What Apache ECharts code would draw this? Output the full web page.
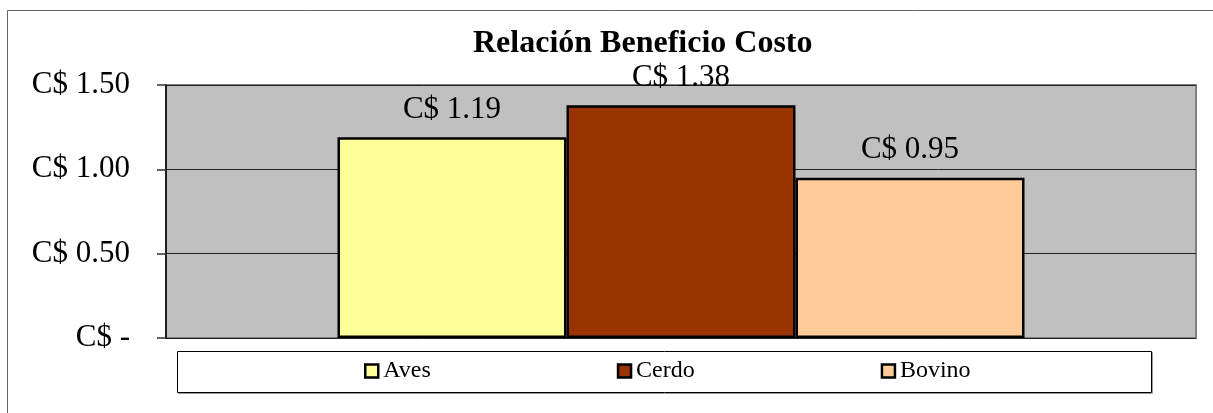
<!DOCTYPE html>
<html>
<head>
<meta charset="utf-8">
<title>Relación Beneficio Costo</title>
<script src="https://cdn.jsdelivr.net/npm/echarts@6/dist/echarts.min.js"></script>
<style>
  html, body { margin: 0; padding: 0; background: #fff; }
  #chart { width: 1213px; height: 413px; }
</style>
</head>
<body>
<div id="chart"></div>
<script>
/* Relación Beneficio Costo — one category, three side-by-side bars. */
var categories = [''];
var seriesNames = ['Aves', 'Cerdo', 'Bovino'];
var aves = [1.19];
var cerdo = [1.38];
var bovino = [0.95];
var seriesColors = ['#FFFF99', '#993300', '#FFCC99'];

(function () {
  'use strict';

  var SERIF = '"Times New Roman", "Liberation Serif", serif';

  function money(v) {
    if (Number(v) === 0) { return 'C$ -'; }
    return 'C$ ' + Number(v).toFixed(2);
  }

  function barSeries(name, data, color) {
    return {
      name: name,
      type: 'bar',
      data: data,
      barGap: '0%',
      barCategoryGap: '33.3%',
      itemStyle: { color: color, borderColor: '#000', borderWidth: 2.5 },
      label: {
        show: true,
        position: 'top',
        distance: 12,
        color: '#000',
        fontFamily: SERIF,
        fontSize: 31,
        formatter: function (p) { return money(p.value); },
      },
    };
  }

  var chart = echarts.init(document.getElementById('chart'));
  chart.setOption({
    animation: false,
    backgroundColor: '#fff',
    title: {
      text: 'Relación Beneficio Costo',
      left: 473,
      top: 28,
      padding: 0,
      textStyle: { fontFamily: SERIF, fontSize: 32, fontWeight: 'bold', color: '#000' },
    },
    legend: {
      data: seriesNames,
      left: 364,
      top: 359,
      padding: 0,
      itemGap: 186,
      itemWidth: 13,
      itemHeight: 13,
      icon: 'rect',
      itemStyle: { borderColor: '#000', borderWidth: 2.5 },
      textStyle: { fontFamily: SERIF, fontSize: 24, color: '#000' },
    },
    grid: {
      left: 166, right: 17, top: 85, bottom: 75,
      show: true,
      backgroundColor: '#C0C0C0',
      borderColor: '#808080',
      borderWidth: 2,
    },
    xAxis: {
      type: 'category',
      data: categories,
      axisLine: { show: false },
      axisTick: { show: false },
      axisLabel: { show: false },
    },
    yAxis: {
      type: 'value',
      min: 0,
      max: 1.5,
      interval: 0.5,
      axisLine: { show: true, lineStyle: { color: '#000', width: 1.5 } },
      axisTick: { show: true, inside: false, length: 9, lineStyle: { color: '#333', width: 1.5 } },
      splitLine: { show: true, lineStyle: { color: '#222', width: 1 } },
      axisLabel: {
        margin: 36,
        color: '#000',
        fontFamily: SERIF,
        fontSize: 31,
        formatter: money,
      },
    },
    graphic: [
      // outer chart-area frame (runs off the right/bottom edge)
      {
        type: 'rect', silent: true, z: -10,
        shape: { x: 7.5, y: 10.5, width: 1300, height: 500 },
        style: { fill: null, stroke: '#666', lineWidth: 1 },
      },
      // legend box with a faint shadow edge
      {
        type: 'rect', silent: true, z: -5,
        shape: { x: 178.5, y: 352.5, width: 974, height: 41 },
        style: { fill: null, stroke: '#999', lineWidth: 1 },
      },
      {
        type: 'rect', silent: true, z: -4,
        shape: { x: 177.5, y: 351.5, width: 974, height: 41 },
        style: { fill: '#fff', stroke: '#000', lineWidth: 1 },
      },
    ],
    series: [
      barSeries(seriesNames[0], aves, seriesColors[0]),
      barSeries(seriesNames[1], cerdo, seriesColors[1]),
      barSeries(seriesNames[2], bovino, seriesColors[2]),
    ],
  });
  window.addEventListener('resize', function () { chart.resize(); });
})();
</script>
</body>
</html>
